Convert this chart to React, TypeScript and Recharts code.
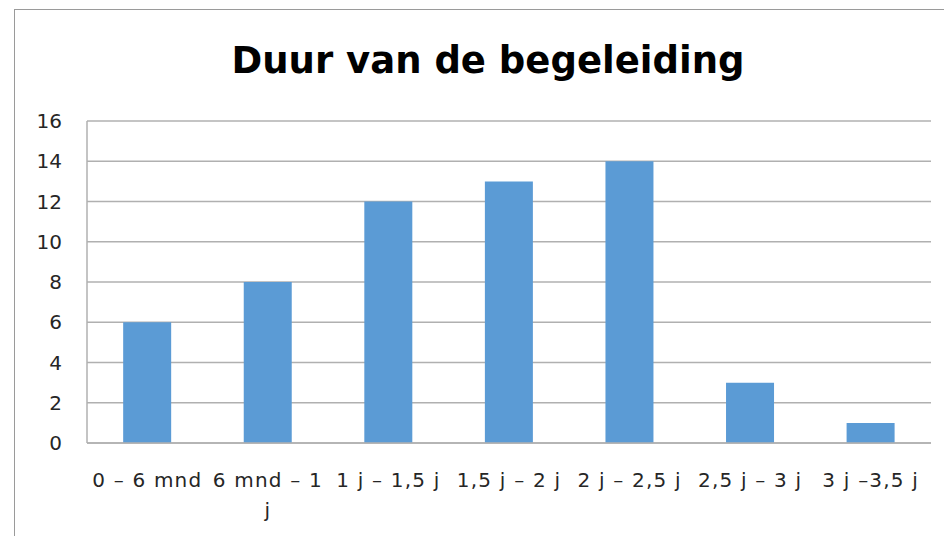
import { Bar, BarChart, CartesianGrid, XAxis, YAxis } from "recharts";

const categories = [
  "0 – 6 mnd",
  "6 mnd – 1 j",
  "1 j – 1,5 j",
  "1,5 j – 2 j",
  "2 j – 2,5 j",
  "2,5 j – 3 j",
  "3 j –3,5 j",
];
const counts = [6, 8, 12, 13, 14, 3, 1];
const yTicks = [0, 2, 4, 6, 8, 10, 12, 14, 16];
const title = "Duur van de begeleiding";

// label lines as they wrap in the original
const tickLines: Record<string, string[]> = {
  "6 mnd – 1 j": ["6 mnd – 1", "j"],
};

const chartData = categories.map((name, i) => ({ name, value: counts[i] }));

const font = "'DejaVu Sans', sans-serif";

const CategoryTick = (props: any) => {
  const { x, y, payload } = props;
  const lines = tickLines[payload.value] ?? [payload.value];
  return (
    <g transform={`translate(${x},${y})`}>
      {lines.map((line: string, i: number) => (
        <text
          key={i}
          x={0}
          y={36 + i * 30}
          textAnchor="middle"
          fill="#262626"
          fontSize={20}
          fontFamily={font}
          letterSpacing={1.2}
        >
          {line}
        </text>
      ))}
    </g>
  );
};

export default function App() {
  return (
    <div
      style={{
        position: "absolute",
        left: 0,
        top: 0,
        width: 944,
        height: 536,
        overflow: "hidden",
        background: "#fff",
      }}
    >
      <div
        style={{
          position: "absolute",
          left: 14,
          top: 9,
          width: 940,
          height: 540,
          borderLeft: "1.5px solid #9a9a9a",
          borderTop: "1.5px solid #9a9a9a",
        }}
      />
      <svg style={{ position: "absolute", left: 0, top: 0 }} width={944} height={100}>
        <text
          x={488}
          y={73}
          textAnchor="middle"
          fontFamily={font}
          fontWeight="bold"
          fontSize={37}
          fill="#000"
        >
          {title}
        </text>
      </svg>
      <div style={{ position: "absolute", left: 0, top: 0 }}>
        <BarChart
          width={944}
          height={536}
          data={chartData}
          margin={{ top: 121, right: 13, bottom: 0, left: 27 }}
          barCategoryGap="30%"
        >
          <CartesianGrid vertical={false} stroke="#b0b0b0" strokeWidth={1.5} />
          <XAxis
            dataKey="name"
            interval={0}
            tickLine={false}
            axisLine={{ stroke: "#b0b0b0", strokeWidth: 1.5 }}
            tick={<CategoryTick />}
            height={93}
          />
          <YAxis
            width={60}
            domain={[0, 16]}
            ticks={yTicks}
            interval={0}
            tickLine={false}
            tickSize={0}
            tickMargin={25}
            axisLine={{ stroke: "#b0b0b0", strokeWidth: 1.5 }}
            tick={{ fill: "#262626", fontSize: 20, fontFamily: font }}
          />
          <Bar dataKey="value" fill="#5b9bd5" isAnimationActive={false} />
        </BarChart>
      </div>
    </div>
  );
}
